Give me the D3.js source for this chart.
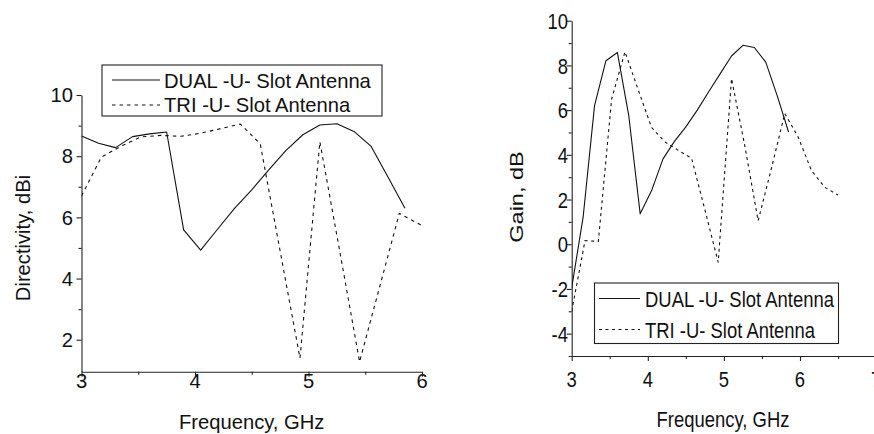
<!DOCTYPE html>
<html>
<head>
<meta charset="utf-8">
<script src="https://cdn.jsdelivr.net/npm/d3@7/dist/d3.min.js"></script>
<style>
  html, body { margin: 0; padding: 0; background: #fff; }
  svg { display: block; }
  text { font-family: "Liberation Sans", Arial, sans-serif; fill: #111; }
</style>
</head>
<body>
<svg id="chart" width="874" height="434"></svg>
<script>
// ---------------- DATA ----------------
const seriesNames = ["DUAL -U- Slot Antenna", "TRI -U- Slot Antenna"];

// Left chart: Directivity, dBi
const dirDualFreq = [3.0, 3.15, 3.3, 3.45, 3.6, 3.75, 3.9, 4.05, 4.2, 4.35, 4.5, 4.65, 4.8, 4.95, 5.1, 5.25, 5.4, 5.55, 5.7, 5.85];
const dirDualVal  = [8.66, 8.42, 8.28, 8.64, 8.73, 8.79, 5.59, 4.93, 5.62, 6.3, 6.9, 7.55, 8.18, 8.7, 9.02, 9.06, 8.81, 8.33, 7.32, 6.3];
const dirTriFreq  = [3.0, 3.175, 3.35, 3.525, 3.7, 3.875, 4.05, 4.225, 4.4, 4.575, 4.75, 4.925, 5.1, 5.275, 5.45, 5.625, 5.8, 5.975, 6.15];
const dirTriVal   = [6.7, 7.97, 8.33, 8.63, 8.68, 8.65, 8.75, 8.9, 9.05, 8.4, 4.9, 1.4, 8.47, 4.9, 1.28, 3.7, 6.13, 5.78, 5.4];

// Right chart: Gain, dB
const gainDualFreq = [3.0, 3.15, 3.3, 3.45, 3.6, 3.75, 3.9, 4.05, 4.2, 4.35, 4.5, 4.65, 4.8, 4.95, 5.1, 5.25, 5.4, 5.55, 5.7, 5.85];
const gainDualVal  = [-1.95, 1.21, 6.2, 8.21, 8.58, 5.75, 1.36, 2.4, 3.82, 4.6, 5.25, 6.0, 6.82, 7.62, 8.42, 8.9, 8.8, 8.15, 6.65, 5.02];
const gainTriFreq  = [3.0, 3.175, 3.35, 3.525, 3.7, 3.875, 4.05, 4.225, 4.4, 4.575, 4.75, 4.925, 5.1, 5.275, 5.45, 5.625, 5.8, 5.975, 6.15, 6.325, 6.5];
const gainTriVal   = [-3.0, 0.16, 0.13, 6.5, 8.61, 6.9, 5.22, 4.58, 4.2, 3.85, 1.55, -0.81, 7.41, 4.4, 1.05, 3.4, 5.85, 4.8, 3.3, 2.55, 2.2];

// Ticks
const leftXTicks = [3, 4, 5, 6];
const leftXMinor = [3.5, 4.5, 5.5];
const leftYTicks = [2, 4, 6, 8, 10];
const leftYMinor = [3, 5, 7, 9];
const rightXTicks = [3, 4, 5, 6, 7];
const rightXMinor = [3.5, 4.5, 5.5, 6.5];
const rightYTicks = [-4, -2, 0, 2, 4, 6, 8, 10];
const rightYMinor = [-5, -3, -1, 1, 3, 5, 7, 9];

const leftXTitle = "Frequency, GHz";
const leftYTitle = "Directivity, dBi";
const rightXTitle = "Frequency, GHz";
const rightYTitle = "Gain, dB";

// ---------------- DRAW ----------------
const svg = d3.select("#chart");
const ink = "#111";

function drawPanel(cfg) {
  const g = svg.append("g");
  const x = d3.scaleLinear().domain(cfg.xDomain).range(cfg.xRange);
  const y = d3.scaleLinear().domain(cfg.yDomain).range(cfg.yRange);
  const sx = cfg.textScaleX;   // horizontal squash of text
  const fs = cfg.fontSize;

  // clip
  const clipId = "clip" + cfg.id;
  svg.append("defs").append("clipPath").attr("id", clipId)
    .append("rect")
    .attr("x", cfg.xRange[0]).attr("y", cfg.yRange[1] - 2)
    .attr("width", cfg.xRange[1] - cfg.xRange[0])
    .attr("height", cfg.yRange[0] - cfg.yRange[1] + 2);

  // axes (major and minor ticks)
  const xAxisY = cfg.yRange[0];
  const yAxisX = cfg.xRange[0];
  const xMaj = g.append("g").attr("transform", `translate(0,${xAxisY})`)
    .call(d3.axisBottom(x).tickValues(cfg.xTicks).tickSize(5).tickSizeOuter(0).tickFormat(""));
  const xMin = g.append("g").attr("transform", `translate(0,${xAxisY})`)
    .call(d3.axisBottom(x).tickValues(cfg.xMinor).tickSize(3).tickSizeOuter(0).tickFormat(""));
  xMin.select(".domain").remove();
  const yMaj = g.append("g").attr("transform", `translate(${yAxisX},0)`)
    .call(d3.axisLeft(y).tickValues(cfg.yTicks).tickSize(5).tickSizeOuter(0).tickFormat(""));
  const yMin = g.append("g").attr("transform", `translate(${yAxisX},0)`)
    .call(d3.axisLeft(y).tickValues(cfg.yMinor).tickSize(3).tickSizeOuter(0).tickFormat(""));
  yMin.select(".domain").remove();
  g.selectAll(".domain, .tick line").attr("stroke", "#222").attr("stroke-width", 1.1);

  // tick labels
  g.selectAll(".xlab").data(cfg.xTicks).enter().append("text")
    .attr("transform", d => `translate(${x(d)},${cfg.xLabelBaseline}) scale(${sx},1)`)
    .attr("text-anchor", "middle")
    .style("font-size", fs + "px")
    .text(d => d3.format("d")(d));
  g.selectAll(".ylab").data(cfg.yTicks).enter().append("text")
    .attr("transform", d => `translate(${cfg.yLabelRight},${y(d)}) scale(${sx},1)`)
    .attr("text-anchor", "end")
    .attr("dy", "0.36em")
    .style("font-size", fs + "px")
    .text(d => String(d));

  // axis titles
  g.append("text")
    .attr("transform", `translate(${cfg.xTitle[1]},${cfg.xTitle[2]}) scale(${sx},1)`)
    .attr("text-anchor", "middle")
    .style("font-size", fs + "px")
    .text(cfg.xTitle[0]);
  g.append("text")
    .attr("transform", `translate(${cfg.yTitle[1]},${cfg.yTitle[2]}) rotate(-90) scale(1,${sx})`)
    .attr("text-anchor", "middle")
    .style("font-size", cfg.yTitleSize + "px")
    .text(cfg.yTitle[0]);

  // lines
  const line = d3.line().x(d => x(d[0])).y(d => y(d[1]));
  const lg = g.append("g").attr("clip-path", `url(#${clipId})`);
  const solidData = cfg.solidF.map((f, i) => [f, cfg.solidV[i]]);
  const dashData = cfg.dashF.map((f, i) => [f, cfg.dashV[i]]);
  lg.append("path").datum(solidData).attr("d", line)
    .attr("fill", "none").attr("stroke", ink).attr("stroke-width", 1.1)
    .attr("stroke-linejoin", "round");
  lg.append("path").datum(dashData).attr("d", line)
    .attr("fill", "none").attr("stroke", ink).attr("stroke-width", 1.1)
    .attr("stroke-dasharray", cfg.dash);

  // legend
  const L = cfg.legend;
  g.append("rect").attr("x", L.x0).attr("y", L.y0)
    .attr("width", L.x1 - L.x0).attr("height", L.y1 - L.y0)
    .attr("fill", "#fff").attr("stroke", "#222").attr("stroke-width", 1.1);
  seriesNames.forEach((name, i) => {
    g.append("line")
      .attr("x1", L.lx0).attr("x2", L.lx1)
      .attr("y1", L.rows[i]).attr("y2", L.rows[i])
      .attr("stroke", ink).attr("stroke-width", 1.1)
      .attr("stroke-dasharray", i === 1 ? cfg.dash : null);
    g.append("text")
      .attr("transform", `translate(${L.tx},${L.base[i]}) scale(${sx},1)`)
      .style("font-size", fs + "px")
      .text(name);
  });
}

drawPanel({
  id: "L",
  xDomain: [3, 6], xRange: [81.5, 422],
  yDomain: [0.955, 10], yRange: [371.7, 95],
  textScaleX: 1, fontSize: 20.2, yTitleSize: 20.2,
  xTicks: leftXTicks, xMinor: leftXMinor, yTicks: leftYTicks, yMinor: leftYMinor,
  xLabelBaseline: 388, yLabelRight: 73,
  xTitle: [leftXTitle, 251.7, 428.5],
  yTitle: [leftYTitle, 30, 238],
  solidF: dirDualFreq, solidV: dirDualVal,
  dashF: dirTriFreq, dashV: dirTriVal,
  dash: "3.5,4",
  legend: { x0: 102, y0: 65, x1: 382, y1: 116, lx0: 112, lx1: 160,
            rows: [80, 105], tx: 164, base: [87.5, 112] }
});

drawPanel({
  id: "R",
  xDomain: [3, 7], xRange: [571.7, 876.1],
  yDomain: [-5, 10], yRange: [356, 20.7],
  textScaleX: 0.82, fontSize: 22.5, yTitleSize: 23.5,
  xTicks: rightXTicks, xMinor: rightXMinor, yTicks: rightYTicks, yMinor: rightYMinor,
  xLabelBaseline: 386.5, yLabelRight: 568,
  xTitle: [rightXTitle, 723, 427],
  yTitle: [rightYTitle, 523, 197],
  solidF: gainDualFreq, solidV: gainDualVal,
  dashF: gainTriFreq, dashV: gainTriVal,
  dash: "3,3.5",
  legend: { x0: 594.5, y0: 283, x1: 838.5, y1: 343.5, lx0: 599, lx1: 640,
            rows: [298.5, 329.5], tx: 645, base: [307, 337.5] }
});
</script>
</body>
</html>
